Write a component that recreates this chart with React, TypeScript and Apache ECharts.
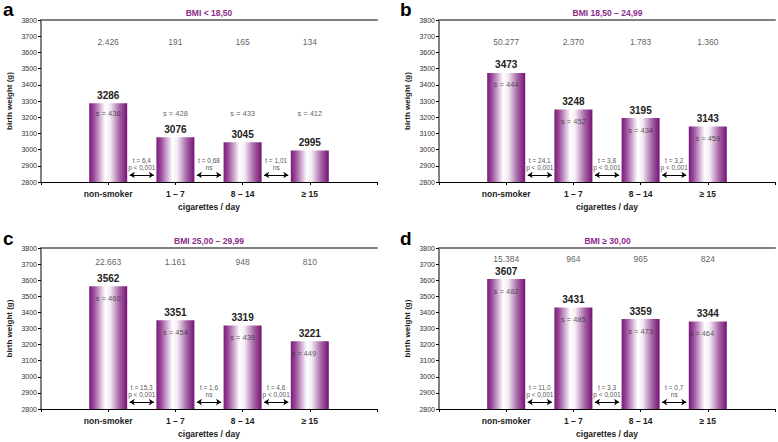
import React, { useEffect, useRef } from "react";
import * as echarts from "echarts";

const CATEGORIES = ["non-smoker", "1 – 7", "8 – 14", "≥ 15"];
const PANEL_LETTERS = ["a", "b", "c", "d"];
const PANEL_TITLES = ["BMI < 18,50", "BMI 18,50 – 24,99", "BMI 25,00 – 29,99", "BMI ≥ 30,00"];

const MEANS_A = [3286, 3076, 3045, 2995];
const MEANS_B = [3473, 3248, 3195, 3143];
const MEANS_C = [3562, 3351, 3319, 3221];
const MEANS_D = [3607, 3431, 3359, 3344];

const COUNTS_A = ["2.426", "191", "165", "134"];
const COUNTS_B = ["50.277", "2.370", "1.783", "1.360"];
const COUNTS_C = ["22.663", "1.161", "948", "810"];
const COUNTS_D = ["15.384", "964", "965", "824"];
const COUNT_LEVELS = [3665, 3665, 3712, 3730];

const SD_A = [436, 428, 433, 412];
const SD_B = [444, 452, 434, 459];
const SD_C = [460, 454, 439, 449];
const SD_D = [482, 485, 473, 464];
// panel a has its s-labels on one common level; others sit inside the bar tops
const SD_FIXED_LEVEL = [3300, null, null, null];

const T_A = ["t = 6,4\np < 0,001", "t = 0,68\nns", "t = 1,01\nns"];
const T_B = ["t = 24,1\np < 0,001", "t = 3,8\np < 0,001", "t = 3,2\np < 0,001"];
const T_C = ["t = 15,3\np < 0,001", "t = 1,6\nns", "t = 4,6\np < 0,001"];
const T_D = ["t = 11,0\np < 0,001", "t = 3,3\np < 0,001", "t = 0,7\nns"];

const Y_TICKS_MIN = 2800;
const Y_TICKS_MAX = 3800;
const Y_TICKS_STEP = 100;

const MEANS = [MEANS_A, MEANS_B, MEANS_C, MEANS_D];
const COUNTS = [COUNTS_A, COUNTS_B, COUNTS_C, COUNTS_D];
const SDS = [SD_A, SD_B, SD_C, SD_D];
const TTESTS = [T_A, T_B, T_C, T_D];

const FONT = "Liberation Sans, Arial, sans-serif";
const PURPLE = "#8b2b8b";

const GRIDS = [
  { left: 41, top: 20, width: 336, height: 162 },
  { left: 439, top: 20, width: 337, height: 162 },
  { left: 41, top: 248, width: 336, height: 161 },
  { left: 439, top: 248, width: 337, height: 161 },
];

export default function App() {
  const ref = useRef<HTMLDivElement>(null);
  useEffect(() => {
    document.body.style.margin = "0";
    const chart = echarts.init(ref.current!, null, { renderer: "svg" });

    const barColor = new echarts.graphic.LinearGradient(0, 0, 1, 0, [
      { offset: 0, color: "#7a1a7a" },
      { offset: 0.12, color: "#9a4a9a" },
      { offset: 0.42, color: "#ffffff" },
      { offset: 0.55, color: "#f4ecf4" },
      { offset: 0.8, color: "#a563a5" },
      { offset: 1, color: "#741274" },
    ]);

    const xAxis: any[] = [];
    const yAxis: any[] = [];
    const series: any[] = [];
    const graphic: any[] = [];

    GRIDS.forEach((g, i) => {
      xAxis.push({
        type: "value",
        gridIndex: i,
        min: 0,
        max: 5,
        interval: 1,
        position: "bottom",
        name: "cigarettes / day",
        nameLocation: "middle",
        nameGap: 20,
        nameTextStyle: { fontFamily: FONT, fontSize: 8.5, fontWeight: "bold", color: "#222" },
        axisLine: { show: true, lineStyle: { color: "#000", width: 1 } },
        axisTick: { show: true, length: 3, lineStyle: { color: "#000" } },
        splitLine: { show: false },
        axisLabel: {
          fontFamily: FONT,
          fontSize: 8.5,
          fontWeight: "bold",
          color: "#222",
          margin: 7,
          formatter: (v: number) => CATEGORIES[v - 1] ?? "",
        },
      });
      xAxis.push({
        type: "value",
        gridIndex: i,
        min: 0,
        max: 5,
        position: "top",
        axisLine: { show: true, lineStyle: { color: "#808080", width: 2 } },
        axisTick: { show: false },
        axisLabel: { show: false },
        splitLine: { show: false },
      });
      yAxis.push({
        type: "value",
        gridIndex: i,
        min: Y_TICKS_MIN,
        max: Y_TICKS_MAX,
        interval: Y_TICKS_STEP,
        position: "left",
        name: "birth weight (g)",
        nameLocation: "middle",
        nameRotate: 90,
        nameGap: 28,
        nameTextStyle: { fontFamily: FONT, fontSize: 8, fontWeight: "bold", color: "#222" },
        axisLine: { show: true, lineStyle: { color: "#000", width: 1 } },
        axisTick: { show: true, length: 3, lineStyle: { color: "#000" } },
        splitLine: { show: false },
        axisLabel: {
          fontFamily: FONT,
          fontSize: 7,
          color: "#333",
          margin: 4,
          formatter: (v: number) => String(v),
        },
      });
      yAxis.push({
        type: "value",
        gridIndex: i,
        min: Y_TICKS_MIN,
        max: Y_TICKS_MAX,
        position: "right",
        axisLine: { show: true, lineStyle: { color: "#808080", width: 2 } },
        axisTick: { show: false },
        axisLabel: { show: false },
        splitLine: { show: false },
      });

      const xi = i * 2;
      const yi = i * 2;
      const means = MEANS[i];

      series.push({
        type: "bar",
        xAxisIndex: xi,
        yAxisIndex: yi,
        barWidth: 38,
        data: means.map((m, k) => [k + 1, m]),
        itemStyle: { color: barColor },
        label: {
          show: true,
          position: "top",
          distance: 3,
          fontFamily: FONT,
          fontSize: 10,
          fontWeight: "bold",
          color: "#222",
          formatter: (p: any) => String(p.value[1]),
        },
        z: 2,
      });

      series.push({
        type: "scatter",
        xAxisIndex: xi,
        yAxisIndex: yi,
        symbolSize: 1,
        itemStyle: { color: "transparent" },
        data: COUNTS[i].map((c, k) => ({ value: [k + 1, COUNT_LEVELS[i]], name: c })),
        label: {
          show: true,
          position: "inside",
          fontFamily: FONT,
          fontSize: 8.5,
          color: "#333",
          textBorderWidth: 0,
          formatter: (p: any) => p.name,
        },
        z: 3,
      });

      const fixed = SD_FIXED_LEVEL[i];
      series.push({
        type: "scatter",
        xAxisIndex: xi,
        yAxisIndex: yi,
        symbolSize: 1,
        itemStyle: { color: "transparent" },
        data: SDS[i].map((s, k) => ({
          value: [k + 1, fixed ?? means[k]],
          name: "s = " + s,
          label: { offset: [(i >= 2 && k === 3) ? -6 : 0, 12] },
        })),
        label: {
          show: true,
          position: "inside",
          fontFamily: FONT,
          fontSize: 7.5,
          color: "#333",
          textBorderWidth: 0,
          formatter: (p: any) => p.name,
        },
        z: 4,
      });

      series.push({
        type: "scatter",
        xAxisIndex: xi,
        yAxisIndex: yi,
        symbolSize: 1,
        itemStyle: { color: "transparent" },
        data: TTESTS[i].map((t, k) => ({ value: [k + 1.5, 2912], name: t })),
        label: {
          show: true,
          position: "inside",
          fontFamily: FONT,
          fontSize: 6.5,
          lineHeight: 7,
          color: "#222",
          textBorderWidth: 0,
          formatter: (p: any) => p.name,
        },
        markLine: {
          silent: true,
          symbol: ["arrow", "arrow"],
          symbolSize: [5, 5],
          label: { show: false },
          lineStyle: { color: "#000", width: 1, type: "solid" },
          data: TTESTS[i].map((_, k) => [
            { coord: [k + 1.32, 2843] },
            { coord: [k + 1.68, 2843] },
          ]),
        },
        z: 4,
      });

      graphic.push({
        type: "text",
        x: g.left + g.width / 2,
        y: g.top - 7,
        style: {
          text: PANEL_TITLES[i],
          fontFamily: FONT,
          fontSize: 8.5,
          fontWeight: "bold",
          fill: PURPLE,
          textAlign: "center",
          textVerticalAlign: "middle",
        },
      });
      graphic.push({
        type: "text",
        x: i % 2 === 0 ? 3 : 400,
        y: i < 2 ? 9 : 238,
        style: {
          text: PANEL_LETTERS[i],
          fontFamily: FONT,
          fontSize: 19,
          fontWeight: "bold",
          fill: "#000",
          textAlign: "left",
          textVerticalAlign: "middle",
        },
      });
    });

    chart.setOption({
      animation: false,
      backgroundColor: "#fff",
      grid: GRIDS.map((g) => ({ ...g, containLabel: false })),
      xAxis,
      yAxis,
      series,
      graphic,
    });
    return () => chart.dispose();
  }, []);
  return <div ref={ref} style={{ width: 778, height: 442 }} />;
}
